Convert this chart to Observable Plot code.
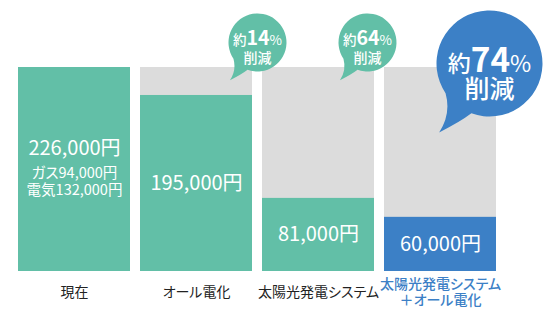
<!DOCTYPE html>
<html><head><meta charset="utf-8">
<script src="https://cdn.jsdelivr.net/npm/d3@7"></script>
<script src="https://cdn.jsdelivr.net/npm/@observablehq/plot@0.6"></script>
<style>
body{margin:0;background:#fff;}
#chart svg{display:block;}
</style>
</head><body><div id="chart"></div>
<script>
// ---- data ----
const categories = ["現在", "オール電化", "太陽光発電システム", "太陽光発電システム\n＋オール電化"];
const costs = [226000, 195000, 81000, 60000];
const valueLabels = ["226,000円", "195,000円", "81,000円", "60,000円"];
const breakdownLabels = ["ガス94,000円\n電気132,000円", "", "", ""];
const reductionCats = ["オール電化", "太陽光発電システム", "太陽光発電システム\n＋オール電化"];
const reductionPct = [14, 64, 74];
const baselineCost = 226000;
const highlight = "太陽光発電システム\n＋オール電化";

// ---- styles ----
const TEAL = "#62bfa7", BLUE = "#3c80c6", GRAY = "#dcdcdc", INK = "#222222";
const FONT = "'Noto Sans CJK JP', 'Noto Sans', sans-serif";

const idx = categories.map((_, i) => i);
const barFill = i => categories[i] === highlight ? BLUE : TEAL;

// speech-bubble symbol: circle with a tail at lower-left
const bubbleSymbol = {
  draw(ctx, size) {
    const r = Math.sqrt(size / Math.PI);
    const a0 = 110 * Math.PI / 180, a1 = 146 * Math.PI / 180;
    const sx = r * Math.cos(a1), sy = r * Math.sin(a1);
    ctx.moveTo(sx, sy);
    ctx.arc(0, 0, r, a1, a0 + 2 * Math.PI);
    ctx.quadraticCurveTo(-0.55 * r, 1.1 * r, -0.95 * r, 1.3 * r);
    ctx.quadraticCurveTo(-0.72 * r, 0.95 * r, sx, sy);
    ctx.closePath();
  }
};

function bubble(i, o) {
  const d = [{x: reductionCats[i], y: baselineCost, pct: reductionPct[i]}];
  return [
    Plot.dot(d, {x: "x", y: "y", r: o.r, dx: o.dx, dy: o.dy, fill: o.fill, stroke: null, symbol: bubbleSymbol}),
    Plot.text(d, {x: "x", y: "y", dx: o.dx, dy: o.dy + o.l1, text: e => `約${e.pct}%`, fill: "white", fontSize: o.f1}),
    Plot.text(d, {x: "x", y: "y", dx: o.dx, dy: o.dy + o.l2, text: () => "削減", fill: "white", fontSize: o.f2, fontWeight: 500})
  ];
}

const chart = Plot.plot({
  width: 552,
  height: 311,
  marginTop: 67,
  marginBottom: 40,
  marginLeft: 17,
  marginRight: 56,
  style: {fontFamily: FONT, background: "white", fontFeatureSettings: '"palt"'},
  x: {domain: categories, paddingInner: 0.082, paddingOuter: 0, axis: null},
  y: {domain: [0, baselineCost], axis: null},
  color: {type: "identity"},
  marks: [
    Plot.barY(idx, {x: i => categories[i], y: () => baselineCost, fill: GRAY}),
    Plot.barY(idx, {x: i => categories[i], y: i => costs[i], fill: barFill}),
    // value labels centred in bars
    Plot.text(idx.filter(i => !breakdownLabels[i]), {x: i => categories[i], y: i => costs[i] / 2, text: i => valueLabels[i], fill: "white", fontSize: 20}),
    Plot.text(idx.filter(i => breakdownLabels[i]), {x: i => categories[i], y: i => costs[i] / 2, dy: -21, text: i => valueLabels[i], fill: "white", fontSize: 20}),
    Plot.text(idx.filter(i => breakdownLabels[i]), {x: i => categories[i], y: i => costs[i] / 2, dy: 12, text: i => breakdownLabels[i], fill: "white", fontSize: 14.5, lineHeight: 1.17}),
    // category labels
    Plot.text(idx.filter(i => categories[i] !== highlight), {x: i => categories[i], y: 0, dy: 21, text: i => categories[i], fill: INK, fontSize: 14}),
    Plot.text(idx.filter(i => categories[i] === highlight), {x: i => categories[i], y: 0, dy: 20, text: i => categories[i], fill: BLUE, fontSize: 14, fontWeight: 500, lineHeight: 1.15}),
    // bubbles
    ...bubble(0, {r: 29, dx: 61, dy: -25, fill: TEAL, l1: -1.5, l2: 16, f1: 13.5, f2: 14}),
    ...bubble(1, {r: 29, dx: 49, dy: -25, fill: TEAL, l1: -1.5, l2: 16, f1: 13.5, f2: 14}),
    ...bubble(2, {r: 53, dx: 49, dy: -4, fill: BLUE, l1: 1, l2: 26, f1: 23, f2: 25})
  ]
});

// mixed-size percent lines: 約 small, number large, % small
const NS = "http://www.w3.org/2000/svg";
chart.querySelectorAll("text").forEach(t => {
  const m = t.textContent.match(/^約(\d+)%$/);
  if (!m) return;
  const g = t.closest("g[font-size]");
  const fs = g ? parseFloat(g.getAttribute("font-size")) : 13;
  t.textContent = "";
  [["約", fs, "500"], [m[1], fs * 1.45, "bold"], ["%", fs, "normal"]].forEach(([s, size, w]) => {
    const ts = document.createElementNS(NS, "tspan");
    ts.setAttribute("font-size", size);
    ts.setAttribute("font-weight", w);
    ts.textContent = s;
    t.appendChild(ts);
  });
});

document.getElementById("chart").appendChild(chart);
</script>
</body></html>
